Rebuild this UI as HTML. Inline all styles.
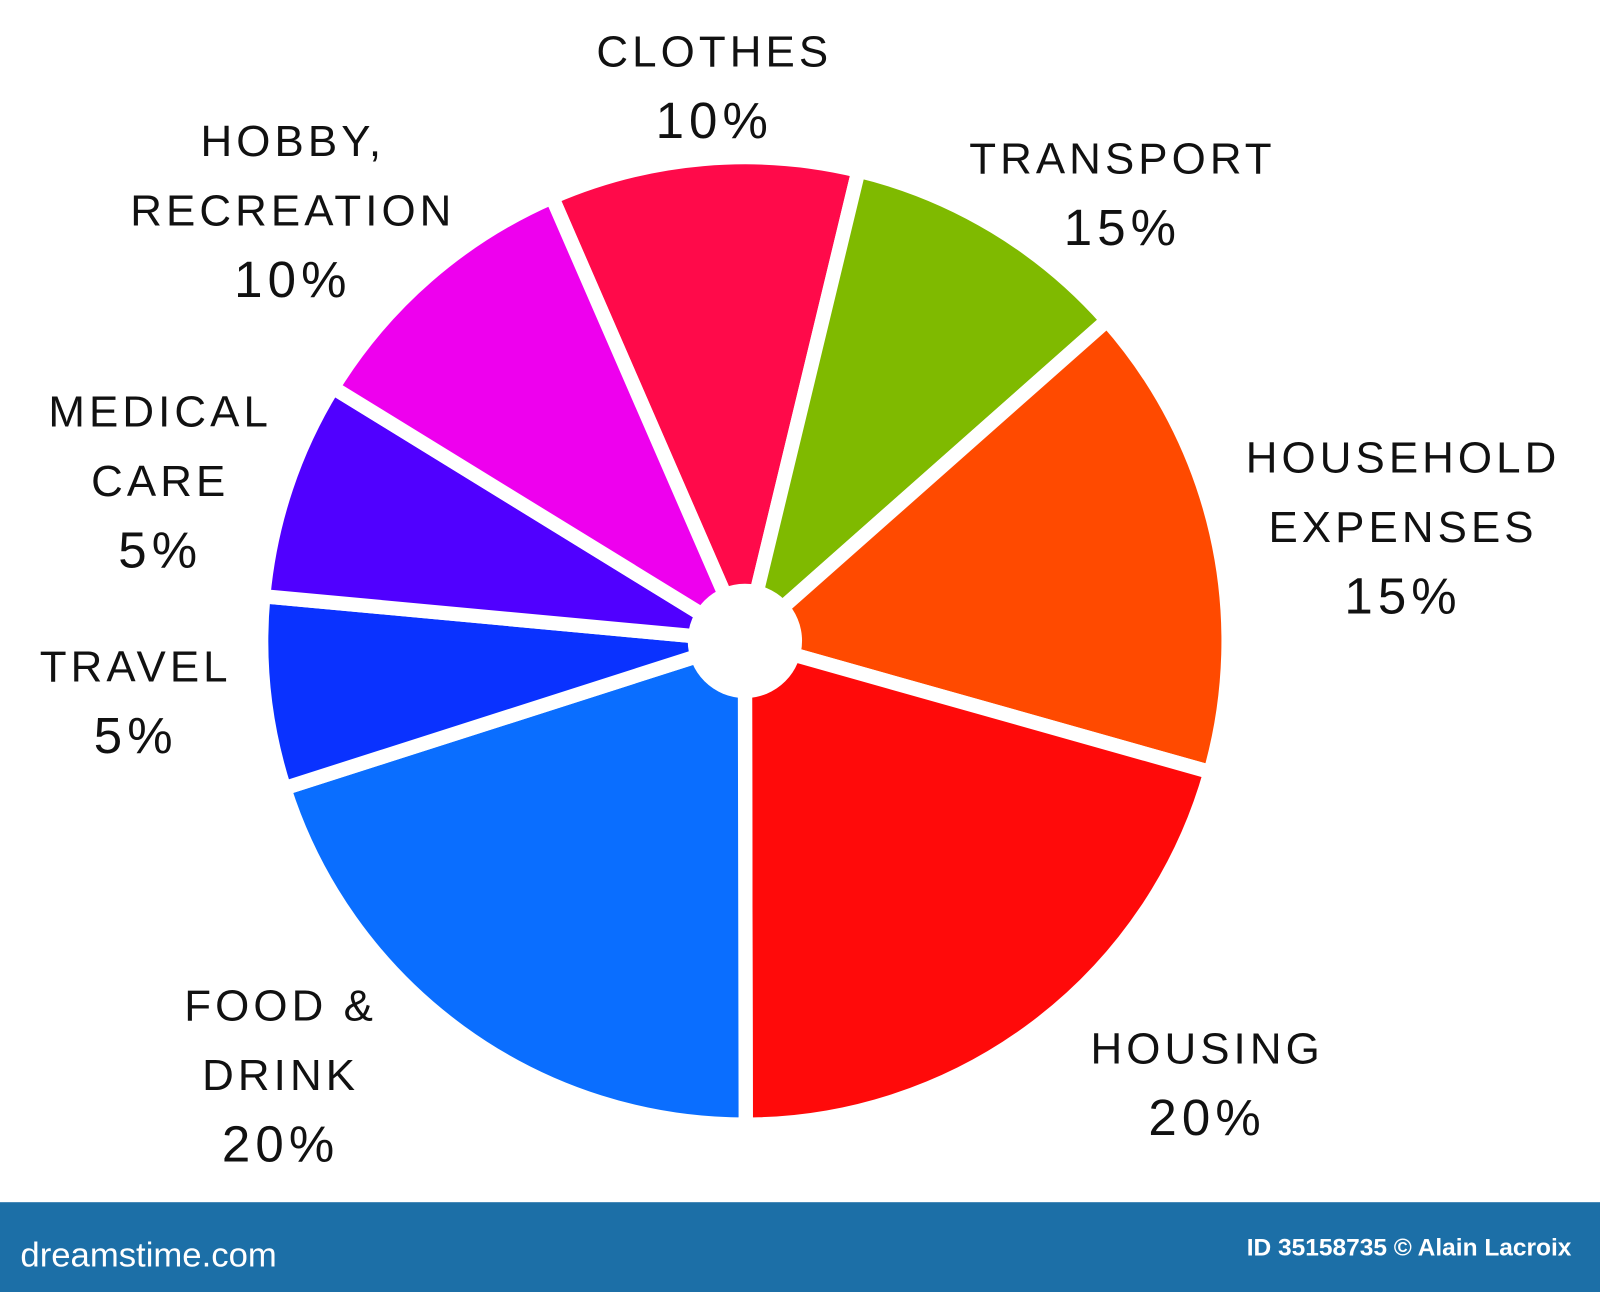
<!DOCTYPE html>
<html>
<head>
<meta charset="utf-8">
<style>
  html,body{margin:0;padding:0;background:#fff;}
  svg{display:block;}
  .lbl{font-family:"Liberation Sans",sans-serif;font-size:43px;letter-spacing:4px;fill:#111;text-anchor:middle;}
  .pct{font-family:"Liberation Sans",sans-serif;font-size:50px;letter-spacing:5px;fill:#111;text-anchor:middle;}
</style>
</head>
<body>
<svg id="chart" width="1600" height="1292" viewBox="0 0 1568 1266" preserveAspectRatio="none" xmlns="http://www.w3.org/2000/svg">
  <rect x="0" y="0" width="1568" height="1266" fill="#fff"/>
  <g id="slices"></g>
  <circle cx="730" cy="628" r="56" fill="#fff"/>
  <g id="labels"></g>
  <rect x="0" y="1178" width="1568" height="88" fill="#1c6fa7"/>
  <text x="20" y="1241" font-family="Liberation Sans, sans-serif" font-size="34" fill="#fff">dreamstime.com</text>
  <text x="1540" y="1230" font-family="Liberation Sans, sans-serif" font-size="24" font-weight="bold" fill="#fff" text-anchor="end">ID 35158735 © Alain Lacroix</text>
</svg>
<script>
// categories in clockwise order starting from the Clothes slice
const categories = ["CLOTHES","TRANSPORT","HOUSEHOLD EXPENSES","HOUSING","FOOD & DRINK","TRAVEL","MEDICAL CARE","HOBBY, RECREATION"];
// printed percentage labels
const percents = ["10%","15%","15%","20%","20%","5%","5%","10%"];
// visual slice sizes (share of the circle as drawn)
const sliceSizes = [10.3, 9.7, 15.9, 20.6, 20.1, 6.4, 7.3, 9.7];
const colors = ["#ff0a4a","#7fba00","#ff4a00","#ff0a0a","#0a6eff","#0a32ff","#5000ff","#ee00ee"];
const startAngle = 336.5; // degrees clockwise from north

const cx = 730, cy = 628, R = 474;
const NS = "http://www.w3.org/2000/svg";
const total = sliceSizes.reduce((a,b)=>a+b,0);
function angleScale(v){ return v/total*360; }
function pt(a, r){ const rad = a*Math.PI/180; return [cx + r*Math.sin(rad), cy - r*Math.cos(rad)]; }

const gS = document.getElementById("slices");
let a0 = startAngle;
sliceSizes.forEach((v,i)=>{
  const a1 = a0 + angleScale(v);
  const p0 = pt(a0,R), p1 = pt(a1,R);
  const large = (a1-a0) > 180 ? 1 : 0;
  const path = document.createElementNS(NS,"path");
  path.setAttribute("d", `M${cx},${cy} L${p0[0]},${p0[1]} A${R},${R} 0 ${large} 1 ${p1[0]},${p1[1]} Z`);
  path.setAttribute("fill", colors[i]);
  path.setAttribute("stroke", "#fff");
  path.setAttribute("stroke-width", "14");
  path.setAttribute("stroke-linejoin", "round");
  
  
  gS.appendChild(path);
  a0 = a1;
});

// label layout: lines and anchor positions (display coords)
const labelLines = [["CLOTHES"],["TRANSPORT"],["HOUSEHOLD","EXPENSES"],["HOUSING"],["FOOD &","DRINK"],["TRAVEL"],["MEDICAL","CARE"],["HOBBY,","RECREATION"]];
const labelPos = [[700,65],[1100,170],[1375,463],[1183,1042],[275,1000],[133,668],[157,418],[287,153]];
const gL = document.getElementById("labels");
labelLines.forEach((lines,i)=>{
  const [x,y] = labelPos[i];
  lines.forEach((ln,j)=>{
    const t = document.createElementNS(NS,"text");
    t.setAttribute("x", x); t.setAttribute("y", y + j*68);
    t.setAttribute("class","lbl");
    t.textContent = ln;
    
    
    gL.appendChild(t);
  });
  const p = document.createElementNS(NS,"text");
  p.setAttribute("x", x); p.setAttribute("y", y + lines.length*68 + 2);
  p.setAttribute("class","pct");
  p.textContent = percents[i];
  
  
  gL.appendChild(p);
});
</script>
</body>
</html>
